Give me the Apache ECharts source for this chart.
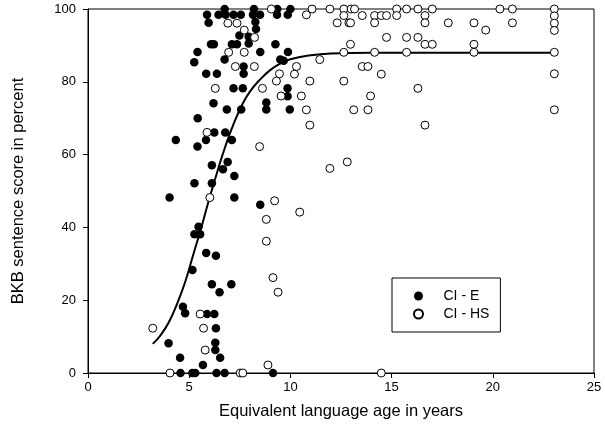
<!DOCTYPE html>
<html><head><meta charset="utf-8">
<script src="https://cdn.jsdelivr.net/npm/echarts@6/dist/echarts.min.js"></script>
<style>html,body{margin:0;padding:0;background:#fff}#c{width:605px;height:437px}</style>
</head><body><div id="c"></div><script>
var xTicks = [0, 5, 10, 15, 20, 25];
var yTicks = [0, 20, 40, 60, 80, 100];
var seriesNames = ['CI - E', 'CI - HS'];
var xTitle = 'Equivalent language age in years';
var yTitle = 'BKB sentence score in percent';

var ciE = [
 [6.75,100],[8.2,100],[9.35,100],[10.0,100],
 [5.88,98.4],[6.45,98.4],[6.8,98.4],[7.19,98.4],[7.55,98.4],[8.15,98.4],[8.5,98.4],[9.34,98.4],[9.87,98.4],
 [5.96,96.2],[8.27,96.4],[8.3,94.5],
 [7.48,92.7],[7.94,92.4],
 [7.94,90.5],[6.08,90.3],[6.22,90.3],[7.11,90.3],[7.36,90.3],[9.26,90.3],
 [5.41,88.2],[8.51,88.2],[9.88,88.2],
 [5.25,85.4],[6.75,86.1],[9.5,86.1],[9.67,85.8],
 [7.69,84.2],
 [5.84,82.2],[6.37,82.2],[7.69,82.2],
 [7.19,78.2],[7.65,78.2],[9.86,78.2],
 [9.86,76.0],
 [6.2,74.1],[8.81,74.3],
 [6.86,72.4],[7.57,72.4],[8.81,72.4],[9.97,72.4],
 [5.42,70.0],
 [6.24,66.1],[6.78,66.1],
 [4.34,64.0],[5.83,64.0],[7.11,64.0],
 [5.41,62.2],
 [6.9,58.0],[6.12,57.1],[6.67,56.0],[7.23,54.1],
 [5.26,52.1],[6.12,52.1],
 [4.03,48.2],[7.23,48.2],
 [8.51,46.2],
 [5.46,40.2],[5.26,38.1],[5.54,38.1],
 [5.84,33.0],[6.32,32.2],
 [5.16,28.3],
 [6.12,24.4],[7.08,24.4],
 [6.5,22.2],
 [4.69,18.2],[4.8,16.4],[5.88,16.2],[6.24,16.2],
 [6.32,12.3],
 [3.98,8.2],[6.29,8.3],[6.29,6.3],
 [4.55,4.2],[6.53,4.2],
 [5.68,2.2],
 [4.57,0],[5.15,0],[5.3,0],[6.35,0],[6.75,0],[9.14,0]
];

var ciHS = [
 [9.06,100],[11.07,100],[11.95,100],[12.64,100],[13.0,100],[13.17,100],[15.25,100],[15.74,100],[16.3,100],[17.01,100],[20.35,100],[20.97,100],[23.04,100],
 [10.79,98.4],[12.64,98.2],[13.55,98.2],[14.16,98.2],[14.49,98.2],[14.75,98.2],[15.25,98.2],[16.65,98.2],[23.04,98.1],
 [6.91,96.1],[7.36,96.1],[12.31,96.2],[12.89,96.2],[12.97,96.2],[14.16,96.2],[16.65,96.2],[17.8,96.2],[19.07,96.2],[20.97,96.2],[23.04,96.1],
 [7.72,94.2],[19.65,94.2],[23.04,94.1],
 [8.23,92.2],[14.75,92.2],[15.74,92.2],[16.3,92.2],
 [12.97,90.3],[16.65,90.3],[17.01,90.3],[19.07,90.3],
 [6.95,88.1],[7.72,88.1],[12.64,88.1],[14.16,88.1],[15.74,88.1],[19.07,88.1],[23.04,88.1],
 [11.45,86.1],
 [7.28,84.2],[8.22,84.2],[10.3,84.2],[13.55,84.2],[13.83,84.2],
 [9.46,82.2],[10.2,82.1],[14.49,82.1],[23.04,82.2],
 [9.31,80.2],[10.96,80.2],[12.64,80.2],
 [6.29,78.2],[8.62,78.2],[16.3,78.2],
 [9.54,76.1],[10.54,76.1],[13.96,76.1],
 [10.79,72.3],[13.13,72.3],[13.83,72.3],[23.04,72.3],
 [10.96,68.1],[16.65,68.1],
 [5.88,66.1],
 [8.48,62.2],
 [12.81,58.0],[11.95,56.2],
 [6.02,48.2],[9.22,47.3],[10.46,44.2],[8.81,42.2],[8.81,36.2],
 [9.14,26.2],[9.39,22.2],
 [5.54,16.2],
 [3.2,12.3],[5.71,12.3],
 [5.79,6.3],
 [8.89,2.2],
 [4.05,0],[7.52,0],[7.65,0],[14.49,0]
];

var fitX = [3.2, 3.6, 4.0, 4.4, 4.8, 5.2, 5.6, 6.0, 6.4, 6.8, 7.2, 7.6, 8.0, 8.5, 9.0, 9.5, 10, 11, 12, 14, 17, 20, 23];
var fitY = [8, 10.5, 14, 19, 25, 32.5, 40, 48, 55.5, 62.5, 68.5, 73.5, 77.3, 80.6, 83.2, 85, 86.2, 87.3, 87.8, 88, 88, 88, 88];

var fitData = fitX.map(function (x, i) { return [x, fitY[i]]; });
var FONT = '"Liberation Sans", Arial, sans-serif';

var chart = echarts.init(document.getElementById('c'), null, {renderer: 'canvas'});
chart.setOption({
  animation: false,
  backgroundColor: '#fff',
  grid: {left: 88, right: 11, top: 9, bottom: 64, show: true, borderColor: '#000', borderWidth: 1, backgroundColor: 'transparent'},
  legend: {
    data: seriesNames,
    orient: 'vertical',
    left: 392, top: 278,
    itemWidth: 40, itemHeight: 9, itemGap: 4,
    padding: [11, 11, 11, 21],
    borderColor: '#000', borderWidth: 1, borderRadius: 0,
    backgroundColor: '#fff',
    textStyle: {fontFamily: FONT, fontSize: 14, color: '#000', lineHeight: 14}
  },
  xAxis: {
    type: 'value', min: xTicks[0], max: xTicks[xTicks.length - 1], interval: 5,
    name: xTitle, nameLocation: 'middle', nameGap: 30,
    nameTextStyle: {fontFamily: FONT, fontSize: 16.5, color: '#000'},
    axisLine: {show: true, onZero: false, lineStyle: {color: '#000', width: 1}},
    axisTick: {show: true, inside: false, length: 5, lineStyle: {color: '#000'}},
    axisLabel: {fontFamily: FONT, fontSize: 13, color: '#000', margin: 8},
    splitLine: {show: false}
  },
  yAxis: {
    type: 'value', min: yTicks[0], max: yTicks[yTicks.length - 1], interval: 20,
    name: yTitle, nameLocation: 'middle', nameGap: 61,
    nameTextStyle: {fontFamily: FONT, fontSize: 16.5, color: '#000'},
    axisLine: {show: true, onZero: false, lineStyle: {color: '#000', width: 1}},
    axisTick: {show: true, inside: false, length: 5, lineStyle: {color: '#000'}},
    axisLabel: {fontFamily: FONT, fontSize: 13, color: '#000', margin: 12},
    splitLine: {show: false}
  },
  series: [
    {
      name: 'fit', type: 'line', data: fitData, smooth: true, showSymbol: false,
      lineStyle: {color: '#000', width: 2}, z: 1, silent: true
    },
    {
      name: seriesNames[0], type: 'scatter', data: ciE, symbol: 'circle', symbolSize: 8.5,
      itemStyle: {color: '#000', opacity: 1}, z: 2
    },
    {
      name: seriesNames[1], type: 'scatter', data: ciHS, symbol: 'circle', symbolSize: 8,
      itemStyle: {color: '#fff', borderColor: '#000', borderWidth: 1, opacity: 1}, z: 3
    }
  ]
});
</script></body></html>
